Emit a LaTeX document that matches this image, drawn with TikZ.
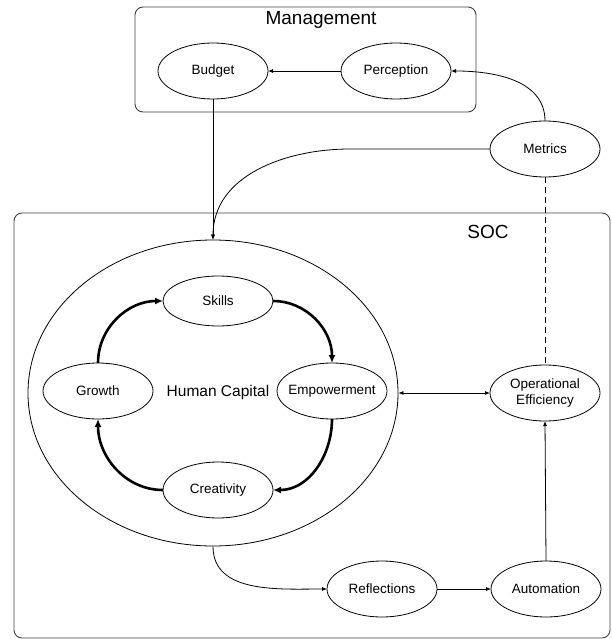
\documentclass[tikz,border=0pt]{standalone}
\usepackage{fontspec}
\setmainfont{Liberation Sans}
\usetikzlibrary{shapes.geometric,arrows.meta}
\newcommand{\nowidth}[1]{\makebox[0pt]{#1}}
\begin{document}
\begin{tikzpicture}[x=1pt,y=1pt,
  oval/.style={ellipse,draw,line width=0.8pt,inner sep=0pt,outer sep=0pt,
    minimum width=110pt,minimum height=56pt,font=\fontsize{13.5}{16.5}\selectfont,align=center},
  group/.style={draw=black!75,line width=0.9pt,rounded corners=8pt},
  title/.style={font=\fontsize{19}{22}\selectfont},
  thin/.style={line width=0.8pt,-{Latex[length=5pt,width=4pt]}},
  cycle/.style={line width=2.6pt,-{Latex[length=8pt,width=7pt]}}]
\useasboundingbox (0,0) rectangle (611,-639);

% group frames
\draw[group] (135,-7) rectangle (476,-112);
\node[title] (mgmt) at (321,-20) {Management};
\draw[group] (14,-213) rectangle (610,-638);
\node[title] (soc) at (488,-232) {SOC};

% management nodes
\node[oval] (budget) at (213,-71) {Budget};
\node[oval] (perception) at (396,-71) {Perception};
\node[oval] (metrics) at (545,-149) {Metrics};

% human capital and its cycle
\node[ellipse,draw,line width=0.8pt,inner sep=0pt,minimum width=370pt,minimum height=306pt,
  label={[xshift=5pt,yshift=1pt,font=\fontsize{15.5}{18}\selectfont]center:Human Capital}] (hc) at (213,-393) {};
\node[oval,minimum height=50pt] (skills) at (218,-301) {Skills};
\node[oval] (growth) at (98,-391) {Growth};
\node[oval] (empower) at (332,-391) {\nowidth{Empowerment}};
\node[oval] (creativity) at (218,-490) {Creativity};

% outcomes
\node[oval] (opeff) at (545,-393) {Operational\\Efficiency};
\node[oval] (reflect) at (382,-589) {Reflections};
\node[oval] (auto) at (546,-589) {Automation};

% cycle arrows
\draw[cycle] (growth.north) to[out=90,in=180] (skills.west);
\draw[cycle] (skills.east) to[out=0,in=90] (empower.north);
\draw[cycle] (empower.south) to[out=-90,in=0] (creativity.east);
\draw[cycle] (creativity.west) to[out=180,in=-90] (growth.south);

% connectors
\draw[thin] (perception.west) -- (budget.east);
\draw[thin] (metrics.north) to[out=90,in=0] (perception.east);
\draw[thin] (budget.south) -- (hc.north);
\draw[thin] (metrics.west) -- ++(-140,0) to[out=180,in=90] (hc.north);
\draw[line width=0.8pt,dashed,dash pattern=on 6pt off 4pt] (metrics.south) -- (opeff.north);
\draw[line width=0.8pt,{Latex[length=5pt,width=4pt]}-{Latex[length=5pt,width=4pt]}] (hc.east) -- (opeff.west);
\draw[thin] (hc.south) to[out=-90,in=180] (reflect.west);
\draw[thin] (reflect.east) -- (auto.west);
\draw[thin] (auto.north) -- (opeff.south);
\end{tikzpicture}
\end{document}
